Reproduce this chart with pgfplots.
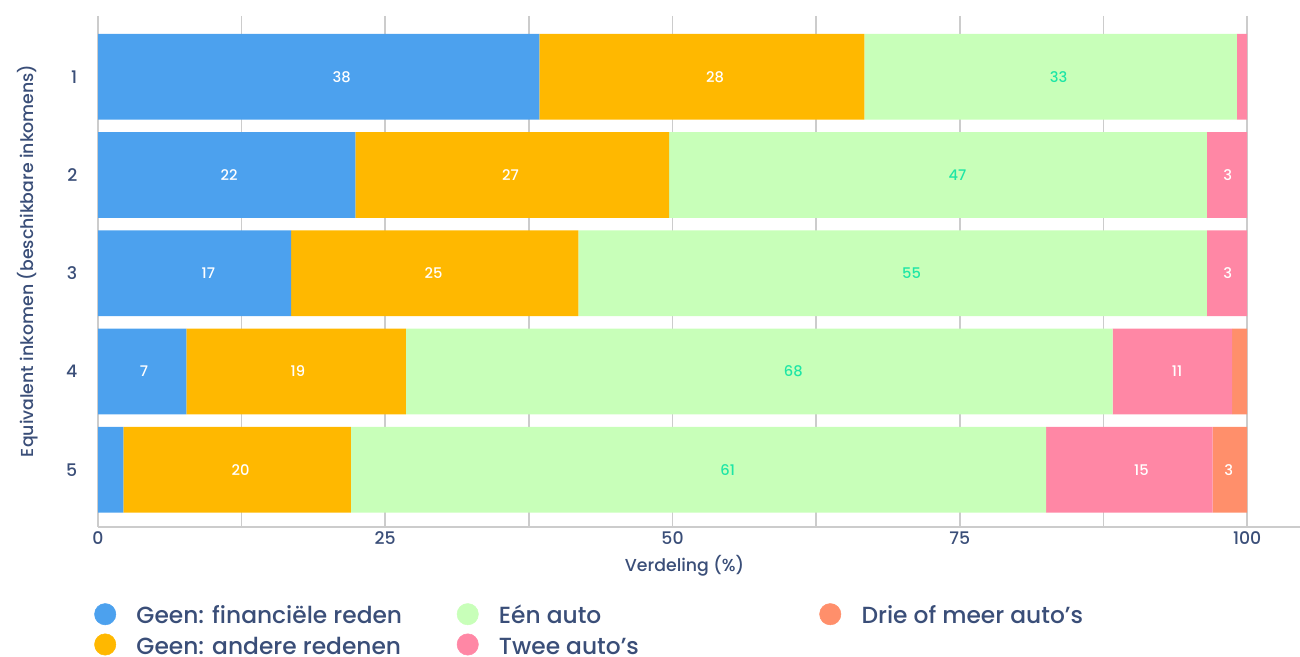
\documentclass[border=0pt]{standalone}
\usepackage{pgfplots}
\pgfplotsset{compat=1.18}
\usepackage{fontspec}
\setmainfont{Poppins}[UprightFont={* Medium}]
\definecolor{cblue}{HTML}{4CA1EE}
\definecolor{corange}{HTML}{FFB800}
\definecolor{cgreen}{HTML}{C8FFB9}
\definecolor{cpink}{HTML}{FF87A5}
\definecolor{cred}{HTML}{FF8F6B}
\definecolor{clabgreen}{HTML}{1EE6A5}
\definecolor{navy}{HTML}{3A4E78}
\definecolor{gridgray}{HTML}{CCCCCC}
\pgfplotsset{
  myaxis/.style={
    at={(73.5pt,97.5pt)}, anchor=south west,
    scale only axis, width=901.5pt, height=383.25pt,
    xmin=0, xmax=104.6, ymin=0.381, ymax=5.583, y dir=reverse,
  }
}
\begin{document}
\begin{tikzpicture}
\path[use as bounding box] (0,0) rectangle (975pt,492.75pt);
\begin{axis}[myaxis,
  xbar stacked, bar width=64.3pt,
  axis x line*=bottom, axis y line*=left,
  x axis line style={draw=gridgray, line width=1.2pt, -},
  y axis line style={draw=none},
  xtick={0,25,50,75,100}, minor xtick={12.5,37.5,62.5,87.5},
  xmajorgrids, xminorgrids,
  major grid style={draw=gridgray, line width=1.2pt},
  minor grid style={draw=gridgray, line width=1.2pt},
  major tick length=0pt, minor tick length=0pt,
  ytick={1,2,3,4,5},
  tick label style={font=\fontsize{13}{15}\selectfont, text=navy},
  /pgf/number format/assume math mode=true,
  yticklabel style={xshift=-12pt},
  xlabel={Verdeling (\%)}, ylabel={Equivalent inkomen (beschikbare inkomens)},
  label style={font=\fontsize{13}{15}\selectfont, text=navy},
  xlabel style={at={(axis description cs:0.488,-0.0763)}, anchor=center},
  ylabel style={at={(axis description cs:-0.0582,0.521)}, anchor=center},
  legend columns=3,
  legend cell align=left,
  legend style={at={(axis description cs:0,0)}, anchor=north west, xshift=-3pt, yshift=-57pt,
    draw=none, fill=none, inner sep=0pt, font=\fontsize{17.5}{21}\selectfont, text=navy,
    row sep=5.75pt, nodes={inner sep=0pt},
    /tikz/every odd column/.style={column sep=15.25pt},
    /tikz/every even column/.style={column sep=10.25pt}},
]
\addplot[fill=cblue, draw=none, forget plot] coordinates {(38.4,1) (22.4,2) (16.8,3) (7.7,4) (2.2,5)};
\addplot[fill=corange, draw=none, forget plot] coordinates {(28.3,1) (27.3,2) (25.0,3) (19.1,4) (19.8,5)};
\addplot[fill=cgreen, draw=none, forget plot] coordinates {(32.4,1) (46.8,2) (54.7,3) (61.5,4) (60.5,5)};
\addplot[fill=cpink, draw=none, forget plot] coordinates {(0.9,1) (3.5,2) (3.5,3) (10.4,4) (14.5,5)};
\addplot[fill=cred, draw=none, forget plot] coordinates {(0,1) (0,2) (0,3) (1.3,4) (3.0,5)};
\addlegendimage{legend image code/.code={\fill[cblue] (8pt,1pt) circle (8pt);}}
\addlegendentry{\makebox[230pt][l]{\rule[-5pt]{0pt}{19pt}Geen: financiële reden}}
\addlegendimage{legend image code/.code={\fill[cgreen] (8pt,1pt) circle (8pt);}}
\addlegendentry{\makebox[230pt][l]{\rule[-5pt]{0pt}{19pt}Eén auto}}
\addlegendimage{legend image code/.code={\fill[cred] (8pt,1pt) circle (8pt);}}
\addlegendentry{\makebox[230pt][l]{\rule[-5pt]{0pt}{19pt}Drie of meer auto’s}}
\addlegendimage{legend image code/.code={\fill[corange] (8pt,1pt) circle (8pt);}}
\addlegendentry{\makebox[230pt][l]{\rule[-5pt]{0pt}{19pt}Geen: andere redenen}}
\addlegendimage{legend image code/.code={\fill[cpink] (8pt,1pt) circle (8pt);}}
\addlegendentry{\makebox[230pt][l]{\rule[-5pt]{0pt}{19pt}Twee auto’s}}
\addlegendimage{empty legend}
\addlegendentry{}
\end{axis}
\begin{axis}[myaxis, hide axis]
\addplot[draw=none, mark=none, nodes near coords, point meta=explicit symbolic,
  every node near coord/.style={anchor=center, font=\fontsize{11}{13}\selectfont, text=white}]
  coordinates {(21.2,1) [38] (53.7,1) [28]
    (11.4,2) [22] (35.9,2) [27] (98.3,2) [3]
    (9.6,3) [17] (29.2,3) [25] (98.3,3) [3]
    (4.0,4) [7] (17.4,4) [19] (93.9,4) [11]
    (12.4,5) [20] (90.8,5) [15] (98.4,5) [3]};
\addplot[draw=none, mark=none, nodes near coords, point meta=explicit symbolic,
  every node near coord/.style={anchor=center, font=\fontsize{11}{13}\selectfont, text=clabgreen}]
  coordinates {(83.6,1) [33] (74.8,2) [47] (70.8,3) [55] (60.5,4) [68] (54.8,5) [61]};
\end{axis}
\end{tikzpicture}
\end{document}
